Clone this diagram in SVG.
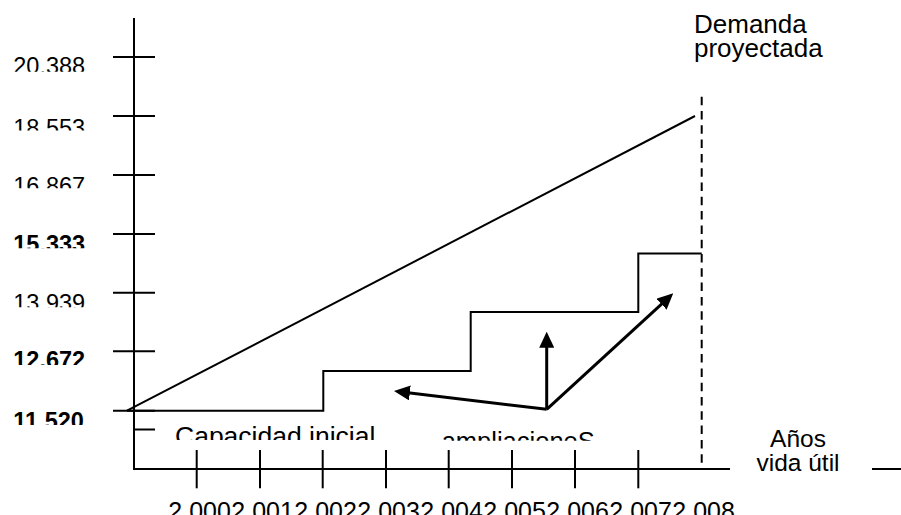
<svg xmlns="http://www.w3.org/2000/svg" width="901" height="515" viewBox="0 0 901 515">
  <style>
    .ln { stroke: #000; stroke-width: 2; fill: none; }
    .dash { stroke: #000; stroke-width: 2; fill: none; stroke-dasharray: 8.5 5.8; }
    .arr { stroke: #000; stroke-width: 3; fill: none; marker-end: url(#head); }
    text { font-family: "Liberation Sans", Arial, sans-serif; fill: #000; }
    .yl { font-size: 23.5px; }
    .b { font-weight: bold; }
    .lbl { font-size: 26px; }
    .yr { font-size: 25px; }
    .ax { font-size: 24.5px; }
  </style>
  <defs>
    <marker id="head" viewBox="0 0 16 15" refX="6" refY="7.5" markerWidth="16" markerHeight="15" markerUnits="userSpaceOnUse" orient="auto">
      <path d="M0,0 L16,7.5 L0,15 z" fill="#000"/>
    </marker>
    <clipPath id="clipText">
      <rect x="0" y="40" width="110" height="31.7"/>
      <rect x="0" y="100" width="110" height="30.5"/>
      <rect x="0" y="160" width="110" height="28.3"/>
      <rect x="0" y="220" width="110" height="28.3"/>
      <rect x="0" y="280" width="110" height="27.3"/>
      <rect x="0" y="340" width="110" height="25"/>
      <rect x="0" y="400" width="110" height="25"/>
      <rect x="160" y="415" width="260" height="25"/>
      <rect x="430" y="420" width="200" height="20.7"/>
    </clipPath>
  </defs>

  <g id="axes" class="ln">
    <line x1="134" y1="18" x2="134" y2="469.3"/>
    <line x1="133" y1="469" x2="730" y2="469"/>
    <line x1="872" y1="469" x2="901" y2="469"/>
  </g>

  <g id="y-ticks" class="ln">
    <line x1="113" y1="57" x2="155" y2="57"/>
    <line x1="113" y1="116" x2="155" y2="116"/>
    <line x1="113" y1="175" x2="155" y2="175"/>
    <line x1="113" y1="234" x2="155" y2="234"/>
    <line x1="113" y1="292.7" x2="155" y2="292.7"/>
    <line x1="113" y1="351.3" x2="155" y2="351.3"/>
    <line x1="113" y1="410.7" x2="155" y2="410.7"/>
    <line x1="134" y1="429.5" x2="155" y2="429.5"/>
  </g>

  <g id="x-ticks" class="ln">
    <line x1="196.7" y1="450" x2="196.7" y2="488.3"/>
    <line x1="260" y1="450" x2="260" y2="488.3"/>
    <line x1="322.7" y1="450" x2="322.7" y2="488.3"/>
    <line x1="386" y1="450" x2="386" y2="488.3"/>
    <line x1="448.7" y1="450" x2="448.7" y2="488.3"/>
    <line x1="512" y1="450" x2="512" y2="488.3"/>
    <line x1="575" y1="450" x2="575" y2="488.3"/>
    <line x1="638.3" y1="450" x2="638.3" y2="488.3"/>
  </g>

  <g id="horizon-line">
    <line class="dash" x1="701.7" y1="96.7" x2="701.7" y2="469"/>
  </g>

  <g id="demand">
    <line class="ln" x1="127" y1="410.7" x2="695" y2="116"/>
  </g>

  <g id="capacity">
    <path class="ln" d="M127,410.7 H323.3 V371 H470.7 V312 H638.3 V253.5 H701.7"/>
  </g>

  <g id="connectors">
    <line class="arr" x1="546.7" y1="409.3" x2="546.7" y2="341.7"/>
    <line class="arr" x1="546.7" y1="409.3" x2="403.9" y2="392.2"/>
    <line class="arr" x1="546.7" y1="409.3" x2="665.9" y2="300.1"/>
  </g>

  <g id="y-labels" clip-path="url(#clipText)">
    <text class="yl" x="13.3" y="74">20.388</text>
    <text class="yl" x="13.3" y="135.5">18.553</text>
    <text class="yl" x="13.3" y="194">16.867</text>
    <text class="yl b" x="13.3" y="251.5">15.333</text>
    <text class="yl" x="13.3" y="310.5">13.939</text>
    <text class="yl b" x="13.3" y="368">12.672</text>
    <text class="yl b" x="13.3" y="429">11.520</text>
  </g>

  <g id="capacidad-inicial" clip-path="url(#clipText)">
    <text x="175" y="445" font-size="26.5">Capacidad inicial</text>
  </g>

  <g id="ampliaciones" clip-path="url(#clipText)">
    <text x="441.7" y="450" font-size="25.5">ampliacioneS</text>
  </g>

  <g id="demanda-label">
    <text class="lbl" x="694" y="33.3">Demanda</text>
    <text class="lbl" x="694" y="57">proyectada</text>
  </g>

  <g id="anos-label">
    <text class="ax" x="798" y="446.5" text-anchor="middle">Años</text>
    <text class="ax" x="798" y="471" text-anchor="middle">vida útil</text>
  </g>

  <g id="x-labels">
    <text class="yr" x="168.3" y="520">2.000</text>
    <text class="yr" x="231.3" y="520">2.001</text>
    <text class="yr" x="294.3" y="520">2.002</text>
    <text class="yr" x="357.3" y="520">2.003</text>
    <text class="yr" x="420.3" y="520">2.004</text>
    <text class="yr" x="483.3" y="520">2.005</text>
    <text class="yr" x="546.3" y="520">2.006</text>
    <text class="yr" x="609.3" y="520">2.007</text>
    <text class="yr" x="672.3" y="520">2.008</text>
  </g>
</svg>
